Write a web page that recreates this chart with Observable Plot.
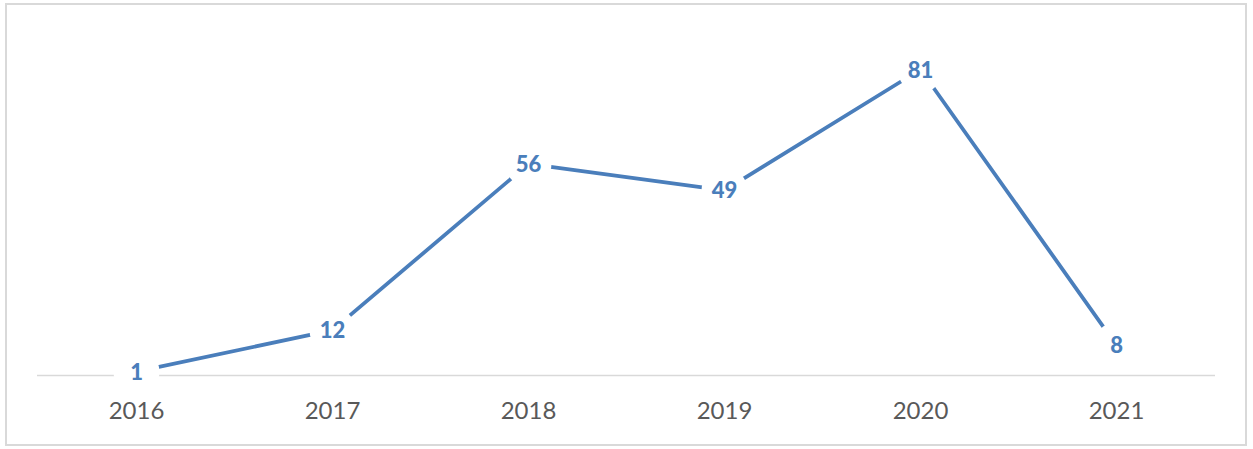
<!DOCTYPE html>
<html>
<head>
<meta charset="utf-8">
<script src="https://cdn.jsdelivr.net/npm/d3@7"></script>
<script src="https://cdn.jsdelivr.net/npm/@observablehq/plot@0.6"></script>
<style>
  html, body { margin: 0; padding: 0; background: #fff; }
  #wrap { position: relative; width: 1253px; height: 449px; }
  #border { position: absolute; left: 5px; top: 3px; width: 1238px; height: 439px; border: 2px solid #d9d9d9; pointer-events: none; }
</style>
</head>
<body>
<div id="wrap"><div id="border"></div></div>
<script>
const years = ["2016", "2017", "2018", "2019", "2020", "2021"];
const values = [1, 12, 56, 49, 81, 8];

const data = years.map((y, i) => ({year: y, value: values[i]}));
const blue = "#4a7ebb";

const chart = Plot.plot({
  width: 1253,
  height: 449,
  marginTop: 35,
  marginBottom: 74,
  marginLeft: 37,
  marginRight: 38,
  style: {background: "transparent", overflow: "visible"},
  x: {type: "band", domain: years, padding: 0, axis: null},
  y: {domain: [0, 90], axis: null},
  marks: [
    Plot.ruleY([0], {stroke: "#d9d9d9", strokeWidth: 1.5}),
    Plot.line(data, {x: "year", y: "value", stroke: blue, strokeWidth: 3.8, curve: "linear"}),
    Plot.dot(data, {x: "year", y: "value", r: 23, fill: "white", stroke: null}),
    Plot.text(data, {x: "year", y: "value", text: d => String(d.value), fill: blue, fontSize: 22, fontWeight: "900", fontFamily: "Lato", dy: 1}),
    Plot.axisX({domain: years, tickSize: 0, tickPadding: 26, fontSize: 24, fontFamily: "Lato", color: "#595959", label: null})
  ]
});
document.getElementById("wrap").appendChild(chart);
chart.style.position = "absolute";
chart.style.left = "0";
chart.style.top = "0";
</script>
</body>
</html>
